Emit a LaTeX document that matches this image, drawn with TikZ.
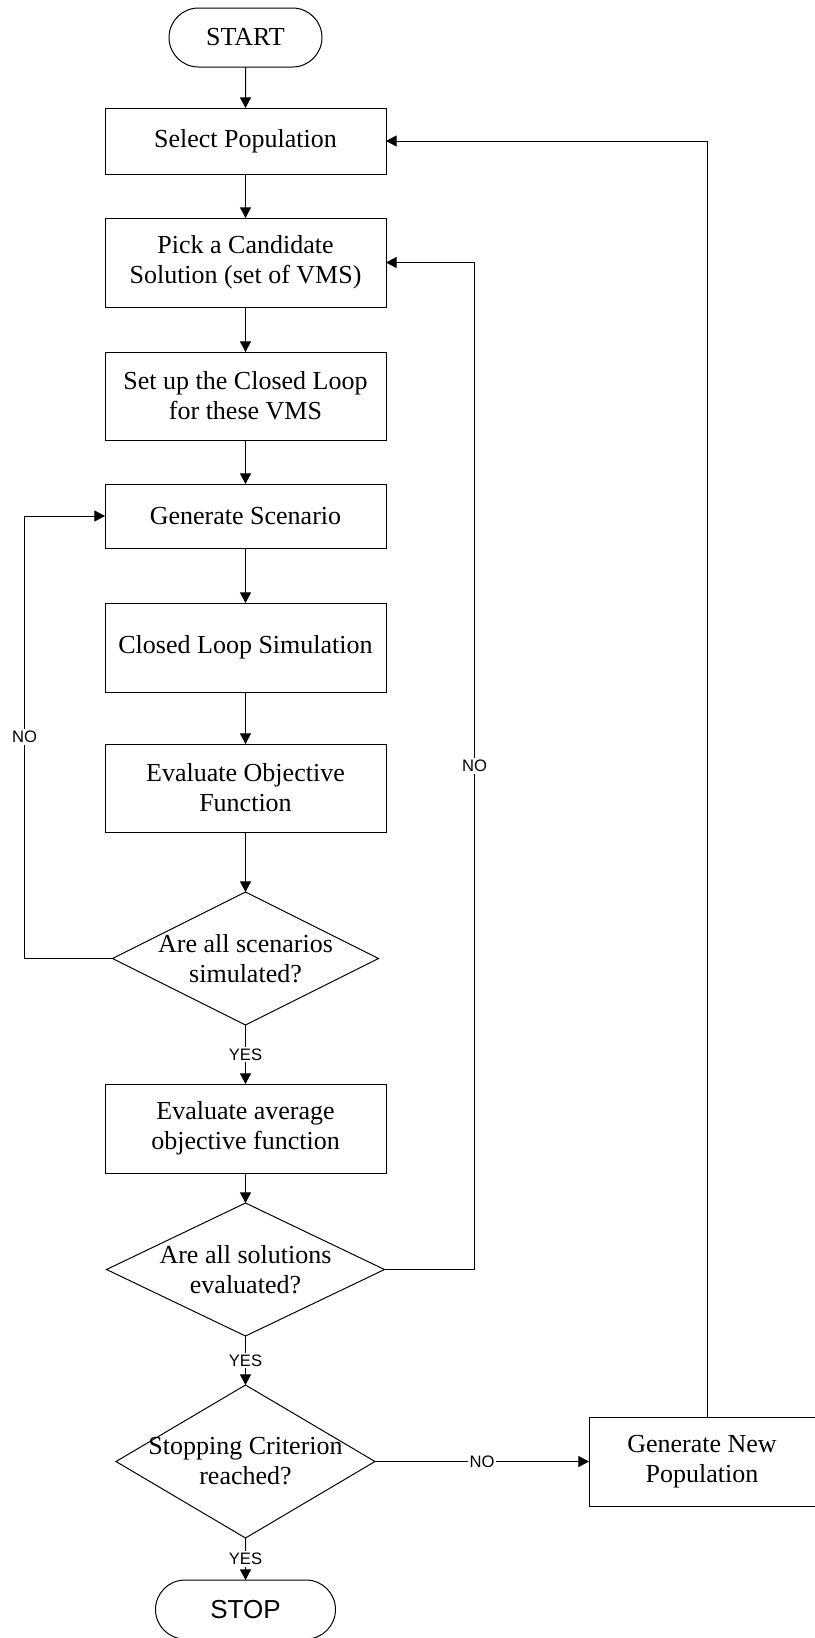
\documentclass[tikz,border=0pt]{standalone}
\usepackage{fontspec}
\setmainfont{Liberation Serif}
\setsansfont{Liberation Sans}
\usetikzlibrary{arrows.meta,positioning,shapes.geometric,shapes.misc}
\tikzset{
  block/.style={
    draw,
    rectangle,
    outer sep=0pt,
    minimum width=140.5pt,
    minimum height=33pt,
    align=center,
    font=\fontsize{13}{15}\selectfont
  },
  tallblock/.style={
    block,
    minimum height=44.5pt
  },
  terminal/.style={
    draw,
    rounded rectangle,
    outer sep=0pt,
    inner xsep=1pt,
    minimum height=29.5pt,
    font=\fontsize{13}{15}\selectfont
  },
  decision/.style={
    draw,
    diamond,
    outer sep=0pt,
    inner sep=0pt
  },
  question/.style={
    align=center,
    font=\fontsize{13}{15}\selectfont
  },
  answer/.style={
    fill=white,
    inner sep=1pt,
    font=\fontsize{8.3}{10}\sffamily
  },
  line/.style={
    -{Triangle[length=5.3pt,width=5.5pt]}
  }
}

\begin{document}
\begin{tikzpicture}[x=0.5pt, y=-0.5pt, line width=0.5pt, node distance=22pt]
\useasboundingbox (0,0) rectangle (814,1638);

\node[terminal, minimum width=78.5pt] (start) at (245.5,37.5) {START};
\node[block, below=20.5pt of start] (select) {Select Population};
\node[tallblock, below=of select] (pick) {Pick a Candidate\\Solution (set of VMS)};
\node[tallblock, minimum height=44pt, below=22.5pt of pick] (setup) {Set up the Closed Loop\\for these VMS};
\node[block, minimum height=32pt, below=of setup] (scenario) {Generate Scenario};
\node[tallblock, below=27.5pt of scenario] (simulate) {Closed Loop Simulation};
\node[tallblock, minimum height=44pt, below=26pt of simulate] (objective) {Evaluate Objective\\Function};
\node[decision, minimum width=133pt, minimum height=66.5pt, below=30pt of objective] (allscen) {};
\node[question] (allscentext) at (allscen) {Are all scenarios\\simulated?};
\node[tallblock, below=29.5pt of allscen] (average) {Evaluate average\\objective function};
\node[decision, minimum width=139pt, minimum height=66.5pt, below=15pt of average] (allsol) {};
\node[question] (allsoltext) at (allsol) {Are all solutions\\evaluated?};
\node[decision, minimum width=129.5pt, minimum height=76.5pt, below=24.5pt of allsol] (criterion) {};
\node[question] (criteriontext) at (criterion) {Stopping Criterion\\reached?};
\node[terminal, minimum width=92pt, font=\fontsize{13}{15}\sffamily, below=21pt of criterion] (stop) {STOP};
\node[tallblock, minimum width=113pt, right=107pt of criterion] (newpop) {Generate New\\Population};

% main column
\draw[line] (start) -- (select);
\draw[line] (select) -- (pick);
\draw[line] (pick) -- (setup);
\draw[line] (setup) -- (scenario);
\draw[line] (scenario) -- (simulate);
\draw[line] (simulate) -- (objective);
\draw[line] (objective) -- (allscen);
\draw[line] (allscen) -- node[answer] (yesscen) {YES} (average);
\draw[line] (average) -- (allsol);
\draw[line] (allsol) -- node[answer] (yessol) {YES} (criterion);
\draw[line] (criterion) -- node[answer] (yesstop) {YES} (stop);
\draw[line] (criterion) -- node[answer] (nostop) {NO} (newpop);

% loops back
\draw[line] (allscen.west) -- ++(-88,0)
  |- node[answer, pos=0.25] (noscen) {NO} (scenario.west);
\draw[line] (allsol.east) -- ++(90,0)
  |- node[answer, pos=0.25] (nosol) {NO} (pick.east);
\draw[line] ([xshift=2.5pt]newpop.north) |- (select.east);

\end{tikzpicture}
\end{document}
